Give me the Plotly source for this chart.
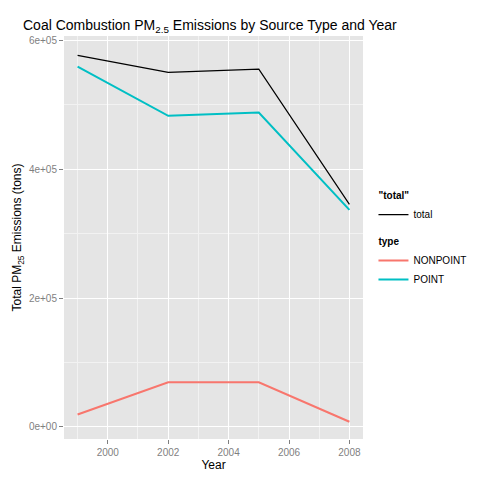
import plotly.graph_objects as go

years = [1999, 2002, 2005, 2008]
total = [577000, 550500, 555500, 345500]
point = [559500, 483000, 488000, 337000]
nonpoint = [19000, 69000, 69000, 7800]

y_tickvals = [0, 200000, 400000, 600000]
y_ticktext = ["0e+00", "2e+05", "4e+05", "6e+05"]
x_tickvals = [2000, 2002, 2004, 2006, 2008]
x_ticktext = ["2000", "2002", "2004", "2006", "2008"]

fig = go.Figure()
fig.add_trace(go.Scatter(x=years, y=total, mode="lines", name="total",
                         line=dict(color="black", width=1.2),
                         legendgroup="total", legendgrouptitle_text="<b>\"total\"</b>"))
fig.add_trace(go.Scatter(x=years, y=nonpoint, mode="lines", name="NONPOINT",
                         line=dict(color="#F8766D", width=2),
                         legendgroup="type", legendgrouptitle_text="<b>type</b>"))
fig.add_trace(go.Scatter(x=years, y=point, mode="lines", name="POINT",
                         line=dict(color="#00BFC4", width=2),
                         legendgroup="type", legendgrouptitle_text="<b>type</b>"))

axis_common = dict(showline=False, zeroline=False, gridcolor="white", gridwidth=1.2,
                   ticks="outside", ticklen=4, tickcolor="#7F7F7F", automargin=False,
                   tickfont=dict(size=10, color="#7F7F7F"),
                   minor=dict(showgrid=True, gridcolor="#F2F2F2", gridwidth=0.6))

fig.update_layout(
    width=480, height=480,
    margin=dict(l=56, r=125, t=28, b=49),
    paper_bgcolor="white", plot_bgcolor="#E5E5E5",
    font=dict(family="Liberation Sans, Arial, sans-serif", color="black"),
    title=dict(text="Coal Combustion PM<sub>2.5</sub> Emissions by Source Type and Year",
               x=15/480, xanchor="left", xref="container",
               y=1-17/480, yanchor="middle", yref="container",
               font=dict(size=14, color="black")),
    xaxis=dict(axis_common, range=[1998.55, 2008.45], tickvals=x_tickvals, ticktext=x_ticktext,
               title=dict(text="Year", font=dict(size=12), standoff=2)),
    yaxis=dict(axis_common, range=[-19000, 607000], tickvals=y_tickvals, ticktext=y_ticktext,
               title=dict(text="Total PM<sub>25</sub> Emissions (tons)", font=dict(size=12), standoff=4)),
    legend=dict(x=1.035, xanchor="left", y=0.64, yanchor="top",
                traceorder="grouped", tracegroupgap=8,
                font=dict(size=10), grouptitlefont=dict(size=10),
                bgcolor="white"),
)
fig.update_xaxes(minor=dict(tickvals=[1999, 2001, 2003, 2005, 2007], ticks=""))
fig.update_yaxes(minor=dict(tickvals=[100000, 300000, 500000], ticks=""))

fig.write_html("out.html")
